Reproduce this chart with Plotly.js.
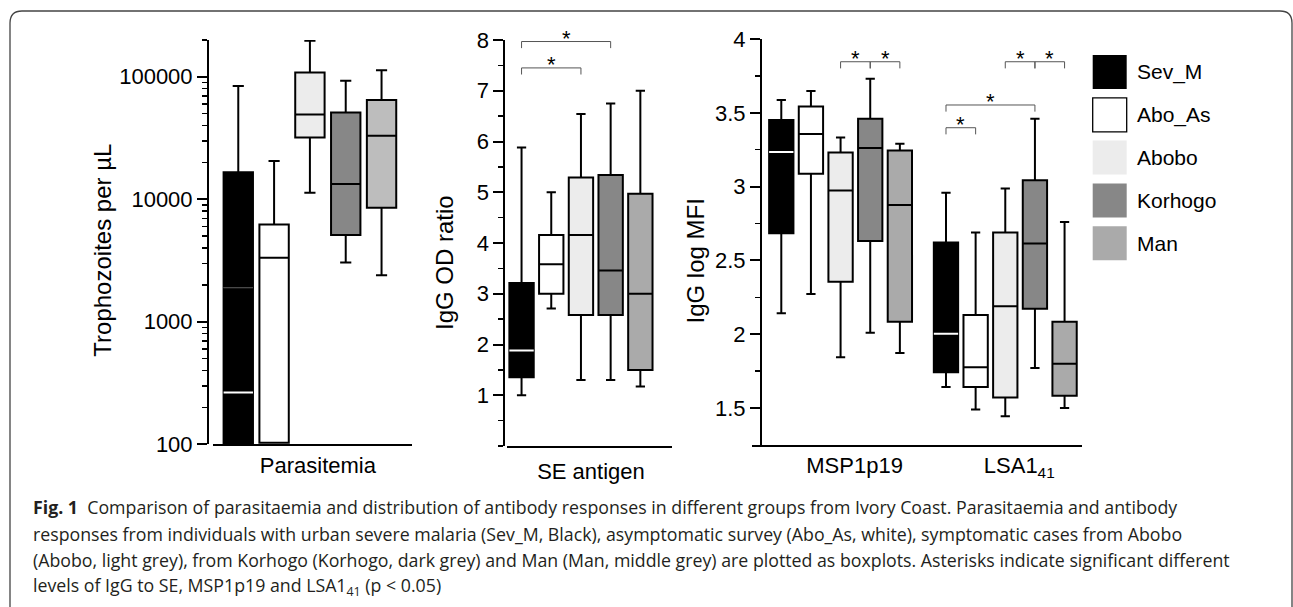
<!DOCTYPE html>
<html>
<head>
<meta charset="utf-8">
<script src="https://cdn.plot.ly/plotly-3.0.1.min.js"></script>
<style>
  html, body { margin: 0; padding: 0; background: #ffffff; }
  #chart { width: 1293px; height: 607px; }
</style>
</head>
<body>
<div id="chart"></div>
<script>
// ---------------- data ----------------
const groups = ['Sev_M', 'Abo_As', 'Abobo', 'Korhogo', 'Man'];
const groupFills = ['#000000', '#ffffff', '#ececec', '#878787', '#aaaaaa'];
const panel1Fills = ['#000000', '#ffffff', '#ececec', '#878787', '#bdbdbd'];

const paraCategories = ['Parasitemia'];
const paraLow  = [90, 103, 11300, 3050, 2400];
const paraQ1   = [90, 103, 32000, 5100, 8530];
const paraMed  = [265, 3330, 49300, 13300, 33000];
const paraQ3   = [16600, 6240, 108500, 51200, 64600];
const paraHigh = [84000, 20500, 197000, 92700, 113000];
const paraSevMInnerLine = 1900;

const seCategories = ['SE antigen'];
const seLow  = [1.0, 2.71, 1.30, 1.30, 1.17];
const seQ1   = [1.355, 3.0, 2.58, 2.58, 1.5];
const seMed  = [1.88, 3.58, 4.16, 3.46, 3.0];
const seQ3   = [3.21, 4.16, 5.29, 5.34, 4.97];
const seHigh = [5.88, 5.0, 6.54, 6.75, 7.0];

const mfiCategories = ['MSP1p19', 'LSA1<sub>41</sub>'];
const mspLow  = [2.143, 2.273, 1.844, 2.01, 1.873];
const mspQ1   = [2.685, 3.087, 2.356, 2.631, 2.085];
const mspMed  = [3.235, 3.357, 2.974, 3.262, 2.875];
const mspQ3   = [3.452, 3.542, 3.231, 3.459, 3.244];
const mspHigh = [3.587, 3.648, 3.332, 3.731, 3.29];
const lsaLow  = [1.643, 1.49, 1.444, 1.772, 1.5];
const lsaQ1   = [1.742, 1.643, 1.572, 2.173, 1.583];
const lsaMed  = [2.004, 1.776, 2.189, 2.615, 1.80];
const lsaQ3   = [2.622, 2.13, 2.689, 3.044, 2.085];
const lsaHigh = [2.958, 2.689, 2.987, 3.459, 2.76];

// significance brackets: [category index, group A, group B, height]
const seBrackets  = [[0, 0, 3, 7.97], [0, 0, 2, 7.45]];
const mfiBrackets = [[0, 2, 3, 3.846], [0, 3, 4, 3.846], [1, 2, 3, 3.846], [1, 3, 4, 3.846],
                     [1, 0, 3, 3.553], [1, 0, 1, 3.399]];

const paraTickVals = [100, 1000, 10000, 100000];
const paraTickText = ['100', '1000', '10000', '100000'];
const seTickVals = [1, 2, 3, 4, 5, 6, 7, 8];
const seTickText = ['1', '2', '3', '4', '5', '6', '7', '8'];
const mfiTickVals = [1.5, 2, 2.5, 3, 3.5, 4];
const mfiTickText = ['1.5', '2', '2.5', '3', '3.5', '4'];

const captionLines = [
  '<b>Fig. 1</b>  Comparison of parasitaemia and distribution of antibody responses in different groups from Ivory Coast. Parasitaemia and antibody',
  'responses from individuals with urban severe malaria (Sev_M, Black), asymptomatic survey (Abo_As, white), symptomatic cases from Abobo',
  '(Abobo, light grey), from Korhogo (Korhogo, dark grey) and Man (Man, middle grey) are plotted as boxplots. Asterisks indicate significant different',
  'levels of IgG to SE, MSP1p19 and LSA1<sub>41</sub> (p < 0.05)'
];

// ---------------- helpers ----------------
const W = 1293, H = 607;
const PX = p => p / W;
const PY = p => 1 - p / H;
const BOXGAP = 0.1, BOXGROUPGAP = 0.18;
const slotOffset = i => -(1 - BOXGAP) / 2 + (1 - BOXGAP) / groups.length * (i + 0.5);

const FONT = 'Liberation Sans, Arial, sans-serif';
const traces = [];

function addPanel(xa, ya, cats, lows, q1s, meds, q3s, highs, fills) {
  groups.forEach((g, gi) => {
    traces.push({
      type: 'box', name: g, xaxis: xa, yaxis: ya,
      x: cats,
      lowerfence: lows.map(a => a[gi]), q1: q1s.map(a => a[gi]),
      median: meds.map(a => a[gi]), q3: q3s.map(a => a[gi]),
      upperfence: highs.map(a => a[gi]),
      offsetgroup: g, alignmentgroup: xa,
      fillcolor: fills[gi], line: {color: '#000000', width: 2},
      whiskerwidth: 0.38, boxpoints: false, hoverinfo: 'skip', showlegend: false
    });
  });
  // white median for the black group
  const m = meds.map(a => a[0]);
  traces.push({
    type: 'box', name: 'Sev_M median', xaxis: xa, yaxis: ya, x: cats,
    lowerfence: m, q1: m, median: m, q3: m, upperfence: m,
    offsetgroup: groups[0], alignmentgroup: xa,
    fillcolor: 'rgba(0,0,0,0)', line: {color: '#ffffff', width: 2},
    whiskerwidth: 0, boxpoints: false, hoverinfo: 'skip', showlegend: false
  });
}

addPanel('x', 'y', paraCategories, [paraLow], [paraQ1], [paraMed], [paraQ3], [paraHigh], panel1Fills);
traces.push({
  type: 'box', name: 'Sev_M line', xaxis: 'x', yaxis: 'y', x: paraCategories,
  lowerfence: [paraSevMInnerLine], q1: [paraSevMInnerLine], median: [paraSevMInnerLine],
  q3: [paraSevMInnerLine], upperfence: [paraSevMInnerLine],
  offsetgroup: groups[0], alignmentgroup: 'x',
  fillcolor: 'rgba(0,0,0,0)', line: {color: '#4a4a4a', width: 1},
  whiskerwidth: 0, boxpoints: false, hoverinfo: 'skip', showlegend: false
});
addPanel('x2', 'y2', seCategories, [seLow], [seQ1], [seMed], [seQ3], [seHigh], groupFills);
addPanel('x3', 'y3', mfiCategories, [mspLow, lsaLow], [mspQ1, lsaQ1], [mspMed, lsaMed],
         [mspQ3, lsaQ3], [mspHigh, lsaHigh], groupFills);

// ---------------- shapes & annotations ----------------
const shapes = [];
const annotations = [];

function addBrackets(list, xref, yref, drop) {
  list.forEach(([c, a, b, h]) => {
    const xa = c + slotOffset(a), xb = c + slotOffset(b);
    const ln = {color: '#555555', width: 1};
    shapes.push({type: 'line', xref, yref, x0: xa, x1: xb, y0: h, y1: h, line: ln});
    shapes.push({type: 'line', xref, yref, x0: xa, x1: xa, y0: h, y1: h - drop, line: ln});
    shapes.push({type: 'line', xref, yref, x0: xb, x1: xb, y0: h, y1: h - drop, line: ln});
    annotations.push({xref, yref, x: (xa + xb) / 2, y: h, text: '*', showarrow: false,
      xanchor: 'center', yanchor: 'middle', yshift: 3,
      font: {family: FONT, size: 22, color: '#000000'}});
  });
}
addBrackets(seBrackets, 'x2', 'y2', 0.13);
addBrackets(mfiBrackets, 'x3', 'y3', 0.045);

// y-axis titles
const yTitles = [
  {text: 'Trophozoites per µL', x: 101.7, y: 250},
  {text: 'IgG OD ratio', x: 445, y: 263},
  {text: 'IgG log MFI', x: 695, y: 261.5}
];
yTitles.forEach(t => annotations.push({
  xref: 'paper', yref: 'paper', x: PX(t.x), y: PY(t.y), text: t.text, textangle: -90,
  showarrow: false, xanchor: 'center', yanchor: 'middle',
  font: {family: FONT, size: 24, color: '#000000'}
}));

// legend
groups.forEach((g, i) => {
  const top = 55 + i * 42.8;
  shapes.push({type: 'rect', xref: 'paper', yref: 'paper',
    x0: PX(1092.7), x1: PX(1126.7), y0: PY(top + 34), y1: PY(top),
    fillcolor: groupFills[i],
    line: {color: '#000000', width: g === 'Abo_As' ? 1.3 : 0}});
  annotations.push({xref: 'paper', yref: 'paper', x: PX(1135), y: PY(top + 17),
    text: g, showarrow: false, xanchor: 'left', yanchor: 'middle',
    font: {family: FONT, size: 21, color: '#000000'}});
});

// caption
captionLines.forEach((line, i) => annotations.push({
  xref: 'paper', yref: 'paper', x: PX(31), y: PY(507 + i * 26.6),
  text: line, showarrow: false, xanchor: 'left', yanchor: 'middle', align: 'left',
  font: {family: 'Open Sans, sans-serif', size: 17.75, color: '#231f20'}
}));

// frame with rounded top corners
const r = 12, fl = 10, ft = 11, fr = 1292, fb = 640;
shapes.push({type: 'path', xref: 'paper', yref: 'paper',
  path: `M ${PX(fl)},${PY(fb)} L ${PX(fl)},${PY(ft + r)} Q ${PX(fl)},${PY(ft)} ${PX(fl + r)},${PY(ft)} ` +
        `L ${PX(fr - r)},${PY(ft)} Q ${PX(fr)},${PY(ft)} ${PX(fr)},${PY(ft + r)} L ${PX(fr)},${PY(fb)}`,
  line: {color: '#444444', width: 1.3}});

// ---------------- axes ----------------
const tickFont = {family: FONT, size: 22, color: '#000000'};
const xBase = {type: 'category', showline: true, linewidth: 2, linecolor: '#000000',
  ticks: '', showgrid: false, zeroline: false, tickfont: tickFont, fixedrange: true};
const yBase = {showline: true, linewidth: 2, linecolor: '#000000', ticks: 'outside',
  ticklen: 10, tickwidth: 2, tickcolor: '#000000', showgrid: false, zeroline: false,
  tickfont: tickFont, anchor: 'free', tickmode: 'array', fixedrange: true};

function minorVals(list) { return {ticks: 'outside', ticklen: 5, tickwidth: 1.5, tickcolor: '#000000', tickvals: list, showgrid: false}; }
const paraMinor = [];
[100, 1000, 10000, 100000].forEach(d => { for (let k = 2; k <= 9; k++) if (d * k <= 200000) paraMinor.push(d * k); });

const layout = {
  width: W, height: H,
  margin: {l: 0, r: 0, t: 0, b: 0},
  paper_bgcolor: '#ffffff', plot_bgcolor: 'rgba(0,0,0,0)',
  showlegend: false,
  boxmode: 'group', boxgap: BOXGAP, boxgroupgap: BOXGROUPGAP,
  xaxis: Object.assign({}, xBase, {domain: [PX(213), PX(412)], anchor: 'y', range: [-0.487, 0.513], ticklabelshift: 8}),
  yaxis: Object.assign({}, yBase, {domain: [PY(444.3), PY(39.9)], type: 'log',
    range: [2, Math.log10(200000)], position: PX(208), tickvals: paraTickVals, ticktext: paraTickText,
    minor: minorVals(paraMinor)}),
  xaxis2: Object.assign({}, xBase, {domain: [PX(506.7), PX(671.7)], anchor: 'y2', range: [-0.45, 0.55],
    ticklabelshift: 10, ticklabelstandoff: 5}),
  yaxis2: Object.assign({}, yBase, {domain: [PY(446), PY(40)], range: [0, 8], position: PX(504.3),
    tickvals: seTickVals, ticktext: seTickText,
    minor: minorVals([0, 0.5, 1.5, 2.5, 3.5, 4.5, 5.5, 6.5, 7.5])}),
  xaxis3: Object.assign({}, xBase, {domain: [PX(752.3), PX(1081.7)], anchor: 'y3', range: [-0.536, 1.464], ticklabelshift: 14}),
  yaxis3: Object.assign({}, yBase, {domain: [PY(445), PY(39)], range: [1.25, 4], position: PX(761),
    tickvals: mfiTickVals, ticktext: mfiTickText,
    minor: minorVals([1.75, 2.25, 2.75, 3.25, 3.75])}),
  shapes: shapes,
  annotations: annotations
};

Plotly.newPlot('chart', traces, layout, {staticPlot: true, displayModeBar: false});
</script>
</body>
</html>
